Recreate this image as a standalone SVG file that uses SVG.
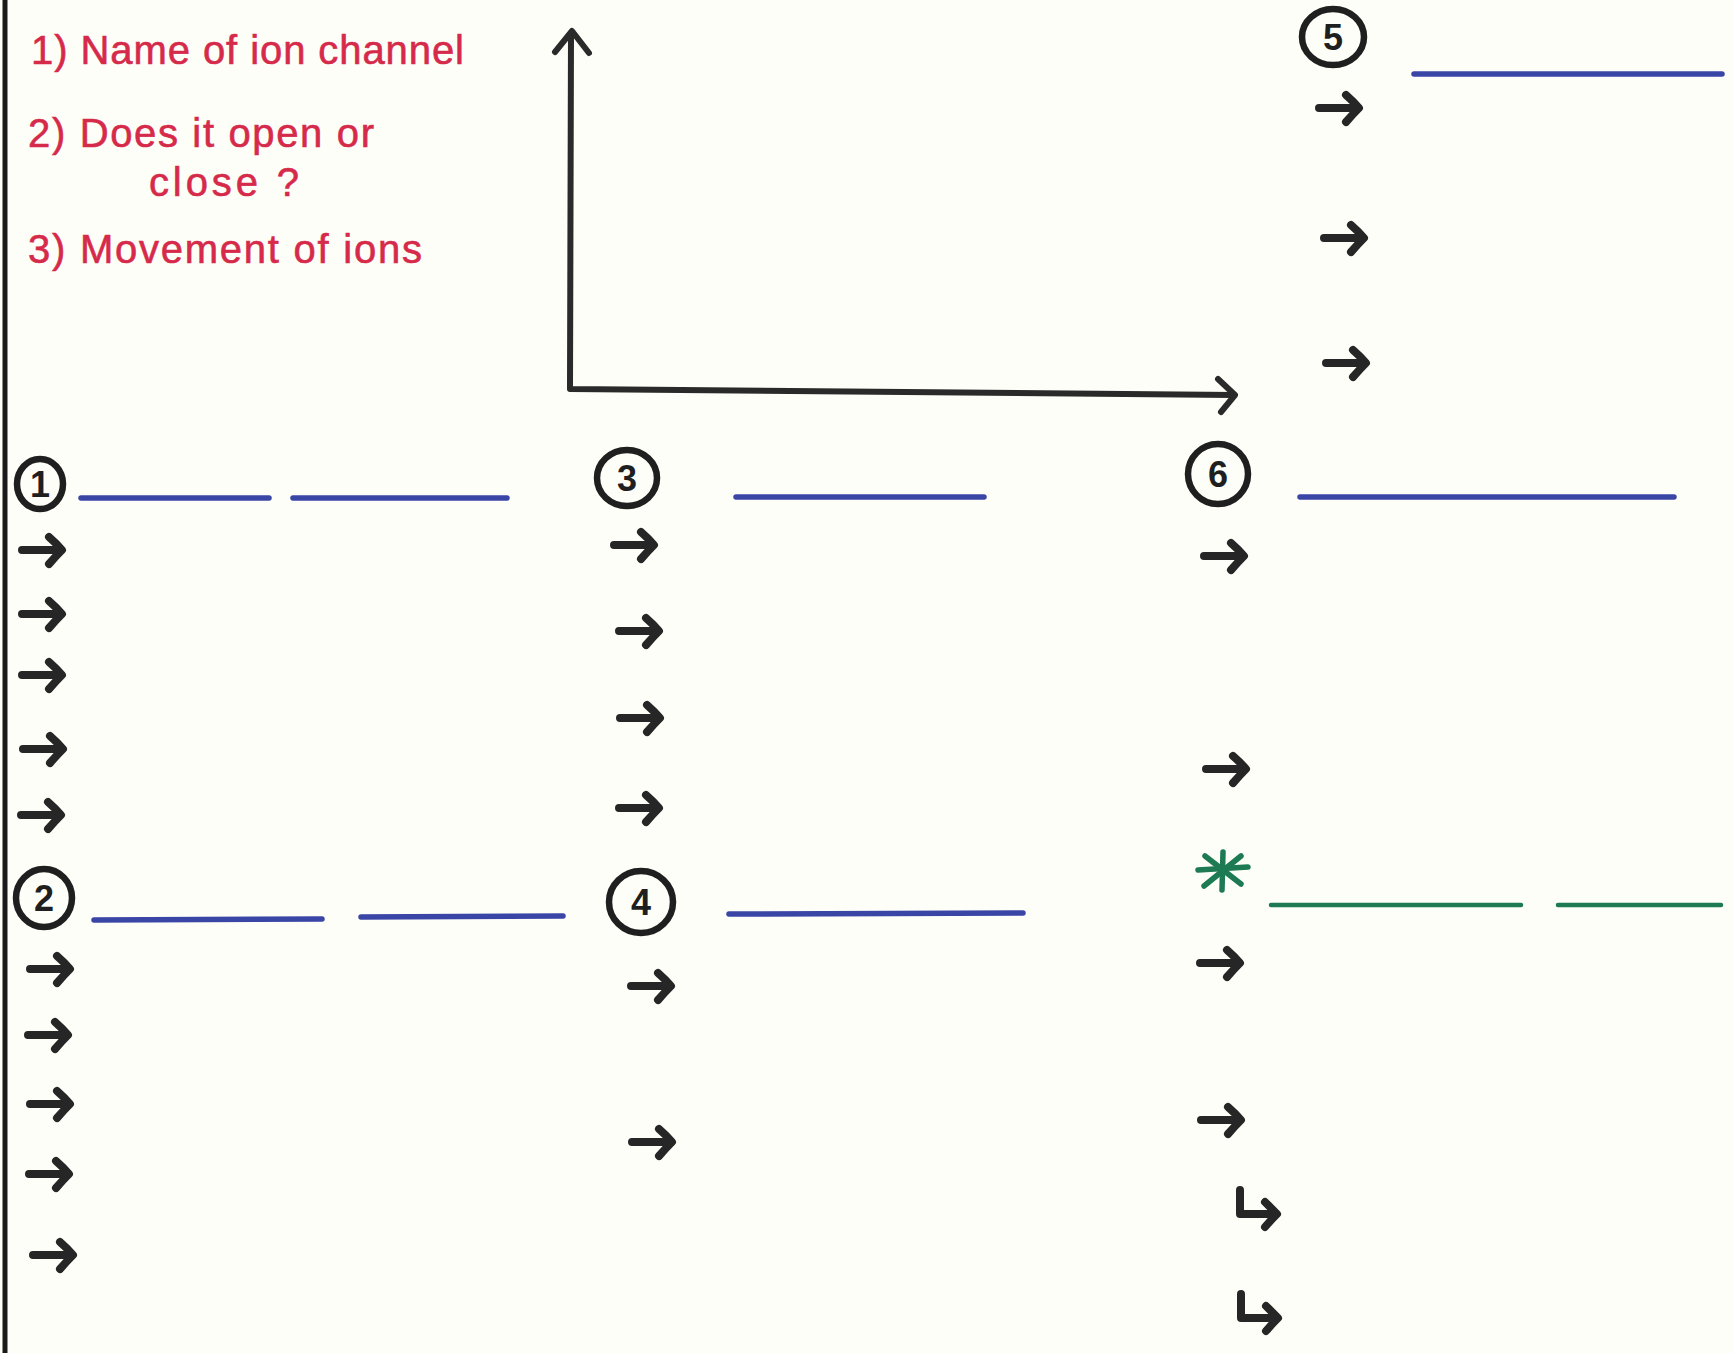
<svg xmlns="http://www.w3.org/2000/svg" xmlns:xlink="http://www.w3.org/1999/xlink" width="1734" height="1353" viewBox="0 0 1734 1353">
<style>
.bg{fill:#fefef8}
.ink{fill:none;stroke:#262626;stroke-width:8;stroke-linecap:round;stroke-linejoin:round}
.axis{fill:none;stroke:#2a2a2a;stroke-width:6;stroke-linecap:round;stroke-linejoin:round}
.ring{fill:none;stroke:#1f1f1f;stroke-width:6.5}
.num{font-family:"Liberation Sans",Arial,sans-serif;font-weight:bold;font-size:36px;fill:#1f1f1f;text-anchor:middle}
.blue{stroke:#3a46a6;stroke-width:5.5;stroke-linecap:round}
.green{stroke:#1d7a52;stroke-width:4.5;stroke-linecap:round}
.note{font-family:"Liberation Sans",Arial,sans-serif;font-size:40px;fill:#d62a4b;stroke:#d62a4b;stroke-width:0.6}
</style>
<defs>
<path id="arr" d="M0,0 H38 M27,-13 Q35,-6 40,0 Q34,6 27,14" class="ink"/>
<path id="hook" d="M0,-24 V0 H36 M25,-12 Q32,-5 37,0 Q31,6 25,13" class="ink"/>
</defs>
<rect class="bg" x="0" y="0" width="1734" height="1353"/>
<line x1="5" y1="0" x2="5" y2="1353" stroke="#1a1a1a" stroke-width="5"/>

<g id="legend">
<text class="note" x="31" y="64" textLength="433" lengthAdjust="spacing">1) Name of ion channel</text>
<text class="note" x="28" y="147" textLength="346" lengthAdjust="spacing">2) Does it open or</text>
<text class="note" x="149" y="196" textLength="150" lengthAdjust="spacing">close ?</text>
<text class="note" x="28" y="263" textLength="394" lengthAdjust="spacing">3) Movement of ions</text>
</g>

<g id="connectors">
<path class="axis" d="M571,33 L570,389 L1234,395"/>
<path class="axis" d="M555,52 L572,31 L589,53"/>
<path class="axis" d="M1218,379 L1235,395 L1221,412"/>
</g>

<g id="node5">
<ellipse class="ring" cx="1333" cy="37" rx="31" ry="28"/>
<text class="num" x="1333" y="50">5</text>
<line class="blue" x1="1414" y1="74" x2="1722" y2="74"/>
<use xlink:href="#arr" x="1319" y="108"/>
<use xlink:href="#arr" x="1324" y="238"/>
<use xlink:href="#arr" x="1326" y="363"/>
</g>

<g id="node1">
<ellipse class="ring" cx="40" cy="484" rx="23" ry="25"/>
<text class="num" x="40" y="497">1</text>
<line class="blue" x1="81" y1="498" x2="269" y2="498"/>
<line class="blue" x1="293" y1="498" x2="507" y2="498"/>
<use xlink:href="#arr" x="22" y="550"/>
<use xlink:href="#arr" x="22" y="614"/>
<use xlink:href="#arr" x="22" y="675"/>
<use xlink:href="#arr" x="23" y="749"/>
<use xlink:href="#arr" x="21" y="815"/>
</g>

<g id="node2">
<ellipse class="ring" cx="44" cy="898" rx="28" ry="29"/>
<text class="num" x="44" y="911">2</text>
<line class="blue" x1="94" y1="920" x2="322" y2="919"/>
<line class="blue" x1="361" y1="917" x2="563" y2="916"/>
<use xlink:href="#arr" x="30" y="969"/>
<use xlink:href="#arr" x="28" y="1035"/>
<use xlink:href="#arr" x="30" y="1104"/>
<use xlink:href="#arr" x="29" y="1174"/>
<use xlink:href="#arr" x="33" y="1255"/>
</g>

<g id="node3">
<ellipse class="ring" cx="627" cy="478" rx="30" ry="28"/>
<text class="num" x="627" y="491">3</text>
<line class="blue" x1="736" y1="497" x2="984" y2="497"/>
<use xlink:href="#arr" x="614" y="545"/>
<use xlink:href="#arr" x="619" y="631"/>
<use xlink:href="#arr" x="620" y="718"/>
<use xlink:href="#arr" x="619" y="808"/>
</g>

<g id="node4">
<ellipse class="ring" cx="641" cy="902" rx="32" ry="31"/>
<text class="num" x="641" y="915">4</text>
<line class="blue" x1="729" y1="914" x2="1023" y2="913"/>
<use xlink:href="#arr" x="631" y="986"/>
<use xlink:href="#arr" x="632" y="1142"/>
</g>

<g id="node6">
<ellipse class="ring" cx="1218" cy="474" rx="30" ry="30"/>
<text class="num" x="1218" y="487">6</text>
<line class="blue" x1="1300" y1="497" x2="1674" y2="497"/>
<use xlink:href="#arr" x="1204" y="556"/>
<use xlink:href="#arr" x="1206" y="769"/>
</g>

<g id="node-star">
<g stroke="#1d7a52" stroke-width="5.5" stroke-linecap="round">
<line x1="1223" y1="852" x2="1222" y2="890"/>
<line x1="1198" y1="870" x2="1248" y2="867"/>
<line x1="1205" y1="856" x2="1241" y2="884"/>
<line x1="1241" y1="856" x2="1204" y2="886"/>
</g>
<line class="green" x1="1271" y1="905" x2="1521" y2="905"/>
<line class="green" x1="1558" y1="905" x2="1721" y2="905"/>
<use xlink:href="#arr" x="1200" y="963"/>
<use xlink:href="#arr" x="1201" y="1120"/>
<use xlink:href="#hook" x="1240" y="1214"/>
<use xlink:href="#hook" x="1241" y="1318"/>
</g>
</svg>
